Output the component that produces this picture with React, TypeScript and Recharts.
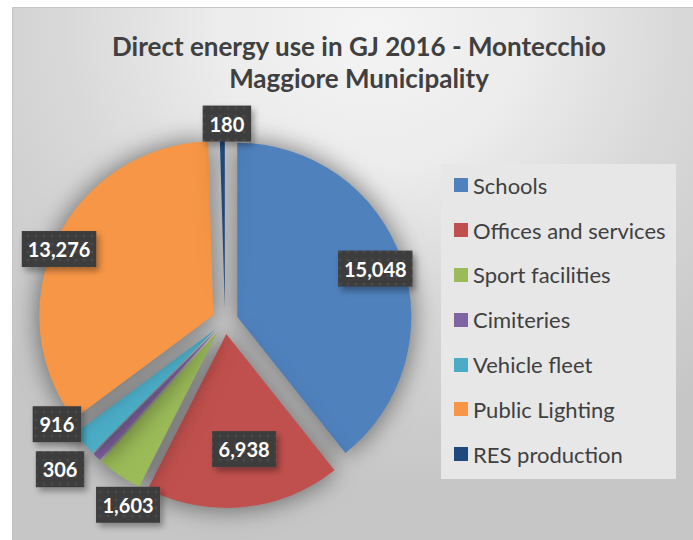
import React from 'react';
import { PieChart, Pie, Cell, Legend } from 'recharts';

const categories = [
  'Schools',
  'Offices and services',
  'Sport facilities',
  'Cimiteries',
  'Vehicle fleet',
  'Public Lighting',
  'RES production',
];
const energyGJ = [15048, 6938, 1603, 306, 916, 13276, 180];
const sliceColors = ['#4f81bd', '#c0504d', '#9bbb59', '#8064a2', '#4bacc6', '#f79646', '#1f497d'];

// label placement (fraction of radius, angular shift in degrees)
const labelRadius = [0.84, 0.67, 1.12, 1.2, 1.06, 0.965, 1.06];
const labelAngleShift = [0, -3, -7, 5, 10, -2.6, 1.5];

const W = 693;
const H = 540;
const CX = 225;
const CY = 321;
const R = 174;
const EXPLODE = 13;

const data = categories.map((name, i) => ({ name, value: energyGJ[i] }));
const total = energyGJ.reduce((a, b) => a + b, 0);
const midAngles: number[] = (() => {
  let acc = 0;
  return energyGJ.map((v) => {
    const m = acc + (v / total) * 180;
    acc += (v / total) * 360;
    return m;
  });
})();
const rad = (d: number) => (d * Math.PI) / 180;
const sliceCenter = (i: number) => ({
  x: CX + EXPLODE * Math.sin(rad(midAngles[i])),
  y: CY - EXPLODE * Math.cos(rad(midAngles[i])),
});

const FONT = 'Lato, "Open Sans", sans-serif';

const renderLabel = (props: any) => {
  const i = props.index;
  const c = sliceCenter(i);
  const th = rad(midAngles[i] + labelAngleShift[i]);
  const r = R * labelRadius[i];
  const x = c.x + r * Math.sin(th);
  const y = c.y - r * Math.cos(th);
  const text = Number(props.value).toLocaleString('en-US');
  const digits = text.replace(/,/g, '').length;
  const commas = text.length - digits;
  const w = digits * 10.5 + commas * 5 + 17;
  const h = 36;
  return (
    <g key={`lbl-${i}`}>
      <rect x={x - w / 2} y={y - h / 2} width={w} height={h} fill="url(#dotPattern)" filter="url(#lblShadow)" />
      <text
        x={x}
        y={y}
        textAnchor="middle"
        dominantBaseline="central"
        fill="#ffffff"
        fontWeight={700}
        fontSize={20}
        fontFamily={FONT}
      >
        {text}
      </text>
    </g>
  );
};

const renderLegend = () => (
  <div
    style={{
      width: 235,
      height: 315,
      background: '#e7e7e7',
      boxSizing: 'border-box',
      paddingTop: 0,
    }}
  >
    {categories.map((name, i) => (
      <div
        key={name}
        style={{
          height: 44.8,
          display: 'flex',
          alignItems: 'center',
          paddingLeft: 13,
          fontFamily: FONT,
          fontSize: 22,
          color: '#404040',
          whiteSpace: 'nowrap',
          position: 'relative',
          top: -1,
        }}
      >
        <span style={{ width: 14, height: 14, background: sliceColors[i], marginRight: 5, display: 'inline-block', flexShrink: 0 }} />
        <span>{name}</span>
      </div>
    ))}
  </div>
);

export default function App() {
  return (
    <div style={{ position: 'absolute', left: 0, top: 0, width: W, height: H, overflow: 'hidden', background: '#ffffff' }}>
      <div
        style={{
          position: 'absolute',
          left: 12,
          top: 7,
          width: 690,
          height: 540,
          borderTop: '1px solid #c4c4c4',
          borderLeft: '1px solid #c4c4c4',
          background:
            'radial-gradient(ellipse 75% 85% at 52% 4%, #f4f4f4 0%, #ececec 30%, #d8d8d8 60%, #c6c6c6 100%)',
        }}
      />
      <div
        style={{
          position: 'absolute',
          left: 12,
          top: 30,
          width: 694,
          textAlign: 'center',
          fontFamily: FONT,
          fontWeight: 700,
          fontSize: 26,
          lineHeight: '32px',
          color: '#404040',
        }}
      >
        <div>Direct energy use in GJ 2016 - Montecchio</div>
        <div>Maggiore Municipality</div>
      </div>
      <div style={{ position: 'absolute', left: 0, top: 0 }}>
        <style>{`.pie-shadow { filter: drop-shadow(0px 0px 12px rgba(0,0,0,0.28)); }`}</style>
        <PieChart width={W} height={H} margin={{ top: 0, right: 0, bottom: 0, left: 0 }}>
          <defs>
            <pattern id="dotPattern" width="8" height="8" patternUnits="userSpaceOnUse">
              <rect width="8" height="8" fill="#3d3d3d" />
              <circle cx="4" cy="4" r="1.6" fill="#4a4a4a" />
            </pattern>
            <filter id="lblShadow" x="-30%" y="-30%" width="170%" height="170%">
              <feDropShadow dx="3" dy="4" stdDeviation="3" floodColor="#000" floodOpacity="0.35" />
            </filter>
          </defs>
          {categories.map((name, i) => {
            const c = sliceCenter(i);
            return (
              <Pie
                key={`pie-${name}`}
                data={data}
                dataKey="value"
                nameKey="name"
                cx={c.x}
                cy={c.y}
                outerRadius={R}
                innerRadius={0}
                startAngle={90}
                endAngle={-270}
                stroke="none"
                label={false}
                labelLine={false}
                legendType="none"
                className="pie-shadow"
                isAnimationActive={false}
              >
                {data.map((d, j) => (
                  <Cell key={`c-${i}-${j}`} fill={j === i ? sliceColors[j] : 'transparent'} stroke="none" />
                ))}
              </Pie>
            );
          })}
          <Pie
            data={data}
            dataKey="value"
            nameKey="name"
            cx={CX}
            cy={CY}
            outerRadius={R}
            startAngle={90}
            endAngle={-270}
            stroke="none"
            fill="transparent"
            label={renderLabel}
            labelLine={false}
            legendType="none"
            isAnimationActive={false}
          >
            {data.map((d, j) => (
              <Cell key={`lc-${j}`} fill="transparent" stroke="none" />
            ))}
          </Pie>
          <Legend
            content={renderLegend}
            wrapperStyle={{ position: 'absolute', left: 441, top: 164, width: 235, height: 315 }}
          />
        </PieChart>
      </div>
    </div>
  );
}
